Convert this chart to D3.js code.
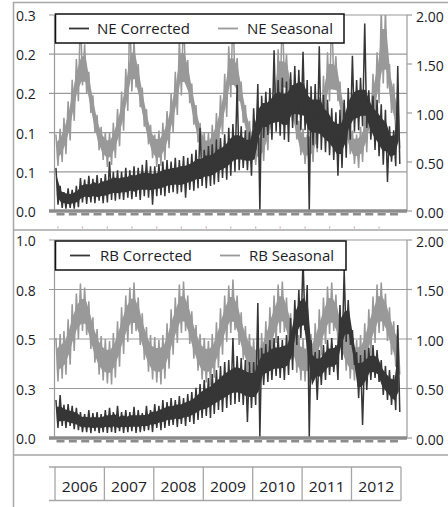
<!DOCTYPE html>
<html><head><meta charset="utf-8">
<script src="https://cdn.jsdelivr.net/npm/d3@7/dist/d3.min.js"></script>
<style>body{margin:0;background:#fff}svg{display:block}text{font-family:"Open Sans",sans-serif;fill:#1c1c28}</style>
</head><body><svg id="c" width="448" height="507"></svg>
<script>
// ---------- data (monthly high / low readings, Jan 2006 .. Dec 2012) ----------
const years = ["2006","2007","2008","2009","2010","2011","2012"];

const neCorrectedHi = [
 .055,.032,.024,.029,.027,.032,.042,.040,.045,.041,.046,.042,
 .047,.063,.050,.052,.050,.055,.052,.057,.055,.059,.065,.057,
 .057,.060,.063,.065,.063,.068,.065,.070,.068,.073,.078,.106,
 .078,.083,.085,.091,.093,.098,.106,.111,.161,.108,.103,.101,
 .131,.162,.147,.152,.157,.205,.167,.170,.165,.177,.185,.180,
 .203,.167,.159,.162,.210,.148,.142,.131,.126,.129,.142,.157,
 .198,.167,.170,.239,.154,.147,.142,.136,.129,.108,.103,.185];
const neCorrectedLo = [
 .008,.004,.003,.004,.003,.005,.011,.009,.011,.010,.013,.010,
 .011,.014,.013,.015,.014,.017,.015,.018,.014,.019,.017,.008,
 .019,.020,.019,.023,.024,.022,.024,.017,.027,.026,.029,.032,
 .029,.032,.034,.037,.042,.040,.045,.050,.052,.055,.052,.045,
 .078,.000,.093,.097,.091,.101,.096,.091,.088,.106,.110,.103,
 .103,.000,.084,.080,.078,.075,.071,.065,.045,.055,.068,.091,
 .101,.103,.108,.106,.091,.078,.070,.059,.037,.063,.057,.060];

const neSeasonalHi = [
 .78,.84,.95,1.12,1.34,1.55,2.05,1.70,1.42,1.18,.98,.86,
 .80,.80,.90,1.04,1.22,1.45,2.05,1.74,1.50,1.26,1.04,.88,
 .78,.82,.90,1.02,1.20,1.42,1.75,2.05,1.54,1.30,1.08,.90,
 .80,.80,.88,1.00,1.18,1.40,1.68,2.05,1.56,1.32,1.08,.92,
 .82,.78,.88,1.00,1.18,1.38,1.65,2.05,1.60,1.34,1.10,.92,
 .84,.78,.86,1.00,1.16,1.38,1.62,2.05,1.58,1.32,1.10,.94,
 .82,.78,.86,1.00,1.18,1.40,1.62,2.05,2.05,1.50,1.30,1.12];
const neSeasonalLo = [
 .46,.50,.58,.72,.92,1.12,1.28,1.20,1.00,.80,.62,.52,
 .45,.47,.54,.66,.82,1.02,1.22,1.26,1.06,.86,.68,.54,
 .45,.46,.52,.64,.80,.98,1.18,1.30,1.10,.88,.70,.55,
 .46,.45,.52,.62,.78,.96,1.16,1.32,1.12,.90,.72,.56,
 .47,.45,.51,.62,.76,.94,1.14,1.32,1.14,.92,.73,.57,
 .48,.44,.50,.60,.76,.94,1.12,1.30,1.12,.90,.72,.58,
 .48,.44,.50,.60,.76,.94,1.10,1.30,1.25,1.00,.82,.64];

const rbCorrectedHi = [
 .192,.217,.167,.172,.162,.152,.131,.121,.141,.126,.131,.121,
 .141,.152,.131,.162,.131,.141,.131,.157,.141,.126,.162,.141,
 .172,.162,.192,.182,.202,.192,.212,.202,.222,.232,.253,.273,
 .293,.303,.323,.343,.364,.384,.394,.505,.414,.404,.394,.384,
 .384,.682,.455,.475,.495,.505,.515,.495,.520,.606,.697,.747,
 .909,.773,.495,.434,.444,.470,.495,.505,.470,.672,.848,.697,
 .545,.434,.419,.444,.455,.470,.444,.394,.364,.343,.318,.571];
const rbCorrectedLo = [
 .051,.061,.051,.061,.045,.040,.030,.030,.025,.035,.025,.030,
 .025,.030,.025,.035,.025,.030,.035,.025,.030,.035,.040,.030,
 .051,.040,.051,.061,.066,.056,.071,.061,.081,.071,.091,.101,
 .111,.101,.121,.141,.131,.152,.167,.172,.182,.167,.081,.152,
 .167,.005,.268,.283,.293,.313,.303,.293,.318,.343,.470,.505,
 .545,.005,.293,.192,.268,.293,.318,.333,.293,.394,.485,.470,
 .369,.202,.066,.242,.293,.303,.283,.217,.192,.167,.141,.131];

const rbSeasonalHi = [
 1.01,1.05,1.08,1.20,1.35,1.46,1.56,1.52,1.38,1.22,1.10,1.03,
 1.00,.98,1.06,1.18,1.32,1.44,1.52,1.57,1.42,1.26,1.12,1.04,
 1.02,.99,1.04,1.16,1.30,1.42,1.55,1.58,1.44,1.28,1.14,1.05,
 1.01,.98,1.05,1.17,1.31,1.44,1.54,1.60,1.44,1.27,1.13,1.05,
 1.00,.99,1.06,1.18,1.32,1.44,1.55,1.58,1.42,1.26,1.12,1.04,
 1.01,1.00,1.05,1.16,1.30,1.42,1.53,1.57,1.45,1.28,1.14,1.06,
 1.02,.99,1.04,1.16,1.30,1.43,1.55,1.57,1.46,1.32,1.18,1.10];
const rbSeasonalLo = [
 .57,.60,.64,.74,.88,1.00,1.08,1.04,.90,.76,.64,.58,
 .55,.54,.61,.72,.85,.97,1.05,1.08,.94,.79,.67,.59,
 .56,.54,.60,.70,.84,.96,1.06,1.08,.95,.80,.68,.59,
 .56,.53,.61,.71,.84,.97,1.06,1.09,.94,.79,.67,.59,
 .55,.54,.60,.71,.84,.96,1.06,1.07,.94,.79,.66,.58,
 .57,.56,.61,.70,.83,.95,1.05,1.08,.96,.80,.68,.60,
 .58,.55,.60,.70,.84,.96,1.06,1.08,.98,.84,.72,.64];

const p1LeftTicks = [0,0.05,0.1,0.15,0.2,0.25];
const p1LeftLabels = ["0.0","0.1","0.1","0.2","0.2","0.3"];
const p2LeftTicks = [0,0.25,0.5,0.75,1.0];
const p2LeftLabels = ["0.0","0.3","0.5","0.8","1.0"];
const rightTicks = [0,0.5,1.0,1.5,2.0];
const rightLabels = ["0.00","0.50","1.00","1.50","2.00"];
const legend1 = ["NE Corrected","NE Seasonal"];
const legend2 = ["RB Corrected","RB Seasonal"];

// ---------- styling / layout ----------
const DARK = "#363636", GRAY = "#999999", FRAME = "#a6a6a6", GRID = "#9a9a9a";
const svg = d3.select("#c");
const x = d3.scaleTime().domain([new Date(2006,0,1), new Date(2013,0,1)]).range([55, 401]);
const GX0 = 49, GX1 = 407;

function pts(hi, lo){
  const out = [];
  hi.forEach((h,m)=>{ out.push([new Date(2006,m,8),h]); out.push([new Date(2006,m,23),lo[m]]); });
  return out;
}
// dense core of the band: middle value of each month and its neighbours, pulled inwards
function mid3(a,i){ const s=[a[Math.max(0,i-1)],a[i],a[Math.min(a.length-1,i+1)]].sort((p,q)=>p-q); return s[1]; }
const INSET = 0.24;

svg.append("line").attr("x1",13).attr("x2",448).attr("y1",2.5).attr("y2",2.5).attr("stroke",FRAME).attr("stroke-width",1.5);
svg.append("line").attr("x1",13.5).attr("x2",13.5).attr("y1",2).attr("y2",507).attr("stroke",FRAME).attr("stroke-width",1.5);
[230,455].forEach(yy=>svg.append("line").attr("x1",13).attr("x2",448).attr("y1",yy).attr("y2",yy).attr("stroke",FRAME).attr("stroke-width",1.5));

const panels = [
  {id:"p1", top:15, bottom:211, leftDomain:[0,0.25], lt:p1LeftTicks, ll:p1LeftLabels,
   cor:[neCorrectedHi,neCorrectedLo], sea:[neSeasonalHi,neSeasonalLo], leg:legend1, legY:[14,43], legR:344,
   items:[{lx:69,tx:97,w:93},{lx:218,tx:247,w:86}]},
  {id:"p2", top:240, bottom:438, leftDomain:[0,1], lt:p2LeftTicks, ll:p2LeftLabels,
   cor:[rbCorrectedHi,rbCorrectedLo], sea:[rbSeasonalHi,rbSeasonalLo], leg:legend2, legY:[241,270], legR:346,
   items:[{lx:70,tx:100,w:92},{lx:220,tx:249,w:85}]}
];

const defs = svg.append("defs");

function drawSeries(plot, hi, lo, y, color){
  const top = (i)=>{ const h=mid3(hi,i), l=mid3(lo,i); return h-(h-l)*INSET; };
  const bot = (i)=>{ const h=mid3(hi,i), l=mid3(lo,i); return l+(h-l)*INSET; };
  plot.append("path").datum(hi)
    .attr("d", d3.area().x((d,i)=>x(new Date(2006,i,15))).y1((d,i)=>y(top(i))).y0((d,i)=>y(bot(i))))
    .attr("fill",color).attr("stroke","none");
  plot.append("path").datum(pts(hi,lo))
    .attr("d",d3.line().x(d=>x(d[0])).y(d=>y(d[1])))
    .attr("fill","none").attr("stroke",color).attr("stroke-width",1.5).attr("stroke-linejoin","miter");
}

panels.forEach(p=>{
  const yL = d3.scaleLinear().domain(p.leftDomain).range([p.bottom,p.top]);
  const yR = d3.scaleLinear().domain([0,2]).range([p.bottom,p.top]);
  const g = svg.append("g");

  g.selectAll(null).data(p.lt.slice(1)).join("line")
    .attr("x1",GX0).attr("x2",GX1).attr("y1",d=>yL(d)).attr("y2",d=>yL(d))
    .attr("stroke",GRID).attr("stroke-width",1.2);

  g.selectAll(null).data(p.lt).join("text")
    .attr("x",16).attr("y",d=>yL(d)+6).attr("font-size",14).text((d,i)=>p.ll[i]);
  g.selectAll(null).data(rightTicks).join("text")
    .attr("x",416).attr("y",d=>yR(d)+6.5).attr("font-size",14).text((d,i)=>rightLabels[i]);
  g.selectAll(null).data(rightTicks).join("line")
    .attr("x1",GX1).attr("x2",GX1+5).attr("y1",d=>yR(d)).attr("y2",d=>yR(d))
    .attr("stroke",GRID).attr("stroke-width",1.2);

  defs.append("clipPath").attr("id","clip"+p.id).append("rect")
    .attr("x",x.range()[0]).attr("y",p.top).attr("width",x.range()[1]-x.range()[0]).attr("height",p.bottom-p.top+1);
  const plot = g.append("g").attr("clip-path",`url(#clip${p.id})`);

  drawSeries(plot, p.sea[0], p.sea[1], yR, GRAY);
  drawSeries(plot, p.cor[0], p.cor[1], yL, DARK);

  g.append("line").attr("x1",54.5).attr("x2",54.5).attr("y1",p.top).attr("y2",p.bottom).attr("stroke",GRID).attr("stroke-width",1.2);
  g.append("line").attr("x1",GX1).attr("x2",GX1).attr("y1",p.top).attr("y2",p.bottom).attr("stroke",GRID).attr("stroke-width",1.2);
  g.append("line").attr("x1",GX0).attr("x2",GX1).attr("y1",yL(0)).attr("y2",yL(0)).attr("stroke","#8c8c8c").attr("stroke-width",3.5);
  g.append("line").attr("x1",x.range()[0]+1.5).attr("x2",x.range()[1]).attr("y1",yL(0)+3.3).attr("y2",yL(0)+3.3)
    .attr("stroke","#8c8c8c").attr("stroke-width",2.6).attr("stroke-dasharray","8,4.35");

  const [ly0,ly1] = p.legY, lc = (ly0+ly1)/2;
  const lg = g.append("g");
  lg.append("rect").attr("x",55.5).attr("y",ly0).attr("width",p.legR-55.5).attr("height",ly1-ly0)
    .attr("fill","#fff").attr("stroke","#111").attr("stroke-width",1.5);
  const cols = [DARK, GRAY];
  p.items.forEach((it,i)=>{
    lg.append("line").attr("x1",it.lx).attr("x2",it.lx+20).attr("y1",lc).attr("y2",lc)
      .attr("stroke",cols[i]).attr("stroke-width",1.8);
    lg.append("text").attr("x",it.tx).attr("y",lc+5.5).attr("font-size",14)
      .attr("textLength",it.w).attr("lengthAdjust","spacingAndGlyphs").text(p.leg[i]);
  });
});

const halfYears = d3.timeMonth.every(6).range(new Date(2006,0,1), new Date(2013,0,1));
svg.selectAll(null).data(halfYears).join("line")
  .attr("x1",d=>x(d)+3).attr("x2",d=>x(d)+3).attr("y1",226.5).attr("y2",228.5)
  .attr("stroke","#d7aaaa").attr("stroke-width",1.2);

const bounds = d3.range(0,years.length+1).map(i=>new Date(2006+i,0,1));
const yb = svg.append("g");
yb.append("line").attr("x1",GX0).attr("x2",x(bounds[bounds.length-1])).attr("y1",467).attr("y2",467).attr("stroke",FRAME).attr("stroke-width",1.3);
yb.append("line").attr("x1",GX0).attr("x2",x(bounds[bounds.length-1])).attr("y1",500.5).attr("y2",500.5).attr("stroke",FRAME).attr("stroke-width",1.3);
yb.selectAll(null).data(bounds).join("line")
  .attr("x1",d=>x(d)).attr("x2",d=>x(d)).attr("y1",467).attr("y2",500.5).attr("stroke",FRAME).attr("stroke-width",1.3);
yb.selectAll(null).data(years).join("text")
  .attr("x",(d,i)=>(x(bounds[i])+x(bounds[i+1]))/2).attr("y",492).attr("text-anchor","middle")
  .attr("font-size",14).attr("textLength",36).attr("lengthAdjust","spacingAndGlyphs").text(d=>d);
</script></body></html>
